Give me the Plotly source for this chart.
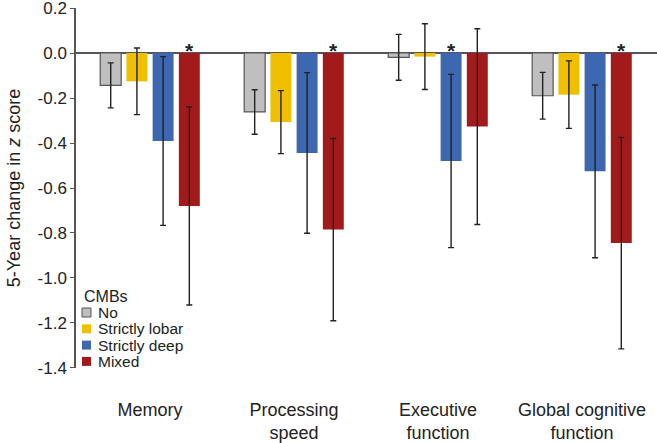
import plotly.graph_objects as go

categories = ["Memory", "Processing<br>speed", "Executive<br>function", "Global cognitive<br>function"]
groups = ["No", "Strictly lobar", "Strictly deep", "Mixed"]
colors = ["#bfbfbf", "#f0c000", "#3d68b1", "#a31a1c"]

values = {
    "No":             [-0.144, -0.262, -0.019, -0.190],
    "Strictly lobar": [-0.126, -0.307, -0.016, -0.185],
    "Strictly deep":  [-0.391, -0.444, -0.480, -0.526],
    "Mixed":          [-0.680, -0.785, -0.327, -0.845],
}
errors = {
    "No":             [0.100, 0.099, 0.102, 0.104],
    "Strictly lobar": [0.148, 0.140, 0.146, 0.150],
    "Strictly deep":  [0.375, 0.357, 0.385, 0.384],
    "Mixed":          [0.440, 0.405, 0.435, 0.470],
}
significant = {
    "No":             [0, 0, 0, 0],
    "Strictly lobar": [0, 0, 0, 0],
    "Strictly deep":  [0, 0, 1, 0],
    "Mixed":          [1, 1, 0, 1],
}
y_ticks = [0.2, 0.0, -0.2, -0.4, -0.6, -0.8, -1.0, -1.2, -1.4]
y_tick_labels = ["0.2", "0.0", "-0.2", "-0.4", "-0.6", "-0.8", "-1.0", "-1.2", "-1.4"]

W, H = 657, 443
ML, MR, MT, MB = 76, 0, 8, 75
PW, PH = W - ML - MR, H - MT - MB

BARGAP = 0.272
BARGROUPGAP = 0.2
xs = list(range(len(categories)))

fig = go.Figure()
for g, c in zip(groups, colors):
    fig.add_trace(go.Bar(
        x=xs, y=values[g], name=g, showlegend=False,
        marker=dict(color=c, line=dict(color="#555555" if g == "No" else c, width=1.2 if g == "No" else 0)),
        error_y=dict(type="data", array=errors[g], color="#222222", thickness=1.4, width=3),
    ))

# significance asterisks
n = len(groups)
slot = (1 - BARGAP) / n
for k, g in enumerate(groups):
    for i, s in enumerate(significant[g]):
        if s:
            xpos = xs[i] - (1 - BARGAP) / 2 + slot * (k + 0.5)
            fig.add_annotation(x=xpos, y=0, text="<b>*</b>", showarrow=False,
                               yanchor="middle", yshift=3,
                               font=dict(size=21, color="#222222", family="Liberation Sans, Arial"))

# legend (drawn as annotations + square shapes)
def px_x(p):
    return (p - ML) / PW

def px_y(p):
    return 1 - (p - MT) / PH

fig.add_annotation(xref="paper", yref="paper", x=px_x(82), y=px_y(296), text="CMBs",
                   showarrow=False, xanchor="left", yanchor="middle",
                   font=dict(size=16, color="#222222"))
for k, (g, c) in enumerate(zip(groups, colors)):
    yc = 312.5 + k * 16.3
    fig.add_shape(type="rect", xref="paper", yref="paper",
                  x0=px_x(82), x1=px_x(91), y0=px_y(yc - 4.5), y1=px_y(yc + 4.5),
                  fillcolor=c, line=dict(color="#555555" if g == "No" else c, width=1 if g == "No" else 0))
    fig.add_annotation(xref="paper", yref="paper", x=px_x(96), y=px_y(yc), text=g,
                       showarrow=False, xanchor="left", yanchor="middle",
                       font=dict(size=15.5, color="#222222"))

fig.update_layout(
    width=W, height=H,
    margin=dict(l=ML, r=MR, t=MT, b=MB),
    paper_bgcolor="white", plot_bgcolor="white",
    barmode="group", bargap=BARGAP, bargroupgap=BARGROUPGAP,
    font=dict(family="Liberation Sans, Arial", color="#222222"),
    showlegend=False,
    xaxis=dict(
        range=[-0.514, 3.521], tickvals=xs, ticktext=categories,
        showline=False, showgrid=False, zeroline=False, ticks="",
        tickfont=dict(size=18), ticklabelstandoff=29, automargin=False,
        ticklabeloverflow="allow",
    ),
    yaxis=dict(
        range=[-1.4001, 0.2001], tickvals=y_ticks, ticktext=y_tick_labels,
        showline=True, linecolor="#555555", linewidth=1.5,
        ticks="outside", ticklen=4, tickcolor="#555555", tickwidth=1.2,
        showgrid=False, zeroline=True, zerolinecolor="#555555", zerolinewidth=2,
        tickfont=dict(size=17), automargin=False, ticklabeloverflow="allow",
        title=dict(text="5-Year change in <i>z</i> score", font=dict(size=18), standoff=12),
    ),
)

fig.write_html("out.html", config={"displayModeBar": False},
               post_script="document.body.style.margin='0px';")
